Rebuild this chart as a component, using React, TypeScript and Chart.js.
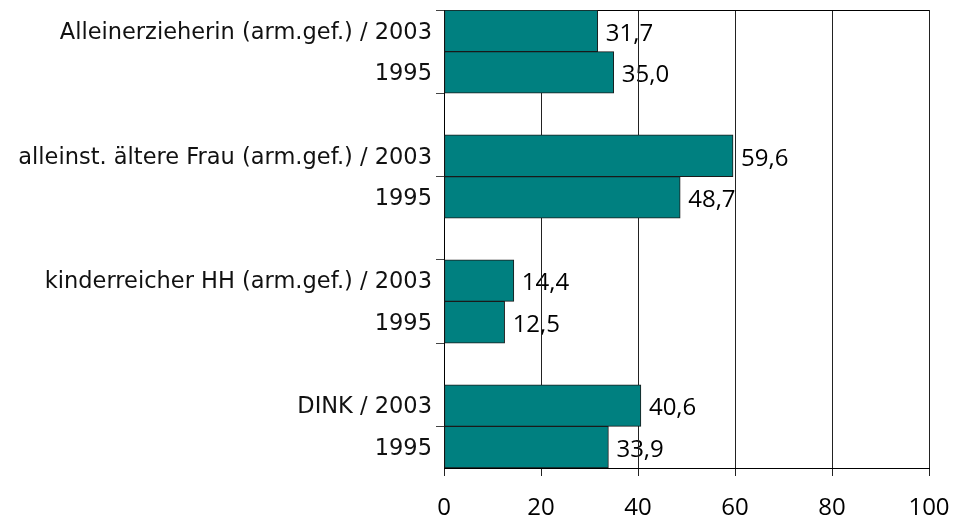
import React, { useEffect, useRef } from "react";
import { Chart, registerables } from "chart.js";

Chart.register(...registerables);

const categories: string[] = [
  "Alleinerzieherin (arm.gef.) / 2003",
  "1995",
  "",
  "alleinst. ältere Frau (arm.gef.) / 2003",
  "1995",
  "",
  "kinderreicher HH (arm.gef.) / 2003",
  "1995",
  "",
  "DINK / 2003",
  "1995",
];

const values: (number | null)[] = [31.7, 35.0, null, 59.6, 48.7, null, 14.4, 12.5, null, 40.6, 33.9];

const xMin = 0;
const xMax = 100;
const xStep = 20;

const FONT = "'Open Sans', 'DejaVu Sans', sans-serif";
const CAT_FONT = "'DejaVu Sans', 'Open Sans', sans-serif";

const valueLabelPlugin = {
  id: "valueLabels",
  beforeDraw(chart: any) {
    const ctx = chart.ctx;
    const meta = chart.getDatasetMeta(0);
    ctx.save();
    ctx.font = `24px ${FONT}`;
    ctx.fillStyle = "#000";
    ctx.textAlign = "left";
    ctx.textBaseline = "middle";
    meta.data.forEach((el: any, i: number) => {
      const v = values[i];
      if (v === null || v === undefined) return;
      ctx.fillText(v.toFixed(1).replace(".", ","), el.x + 8, el.y + 3);
    });
    ctx.restore();
  },
};

export default function App() {
  const ref = useRef<HTMLCanvasElement | null>(null);

  useEffect(() => {
    document.body.style.margin = "0";
    if (!ref.current) return;
    const chart = new Chart(ref.current, {
      type: "bar",
      data: {
        labels: categories,
        datasets: [
          {
            data: values,
            backgroundColor: "#008080",
            borderColor: "#1a1a1a",
            borderWidth: 1,
            borderSkipped: false,
            barPercentage: 1,
            categoryPercentage: 1,
          },
        ],
      },
      options: {
        indexAxis: "y",
        responsive: false,
        animation: false,
        layout: { padding: { top: 10, right: 26, left: 0, bottom: 0 } },
        plugins: {
          legend: { display: false },
          tooltip: { enabled: false },
        },
        scales: {
          x: {
            min: xMin,
            max: xMax,
            ticks: {
              stepSize: xStep,
              color: "#000",
              padding: 18,
              font: { family: FONT, size: 24 },
            },
            grid: {
              color: "#222",
              lineWidth: 1,
              tickLength: 8,
              tickColor: "#222",
            },
            border: { display: true, color: "#000", width: 1 },
            afterFit: (scale: any) => {
              scale.height = 54;
              scale.paddingLeft = 0;
              scale.paddingRight = 0;
            },
          },
          y: {
            offset: true,
            ticks: {
              autoSkip: false,
              color: "#111",
              padding: 4,
              labelOffset: 2,
              font: { family: CAT_FONT, size: 22.5 },
            },
            grid: {
              offset: true,
              drawOnChartArea: true,
              tickLength: 8,
              color: (c: any) => (c.index === 0 ? "#000" : "rgba(0,0,0,0)"),
              tickColor: (c: any) =>
                c.index % 2 === 0 && c.index < categories.length ? "#444" : "rgba(0,0,0,0)",
              lineWidth: 1,
            },
            border: { display: true, color: "#000", width: 1 },
            afterFit: (scale: any) => {
              scale.width = 444;
              scale.paddingTop = 0;
              scale.paddingBottom = 0;
            },
          },
        },
      },
      plugins: [valueLabelPlugin],
    });
    return () => chart.destroy();
  }, []);

  return (
    <div style={{ width: 955, height: 522, background: "#fff" }}>
      <canvas ref={ref} width={955} height={522} />
    </div>
  );
}
